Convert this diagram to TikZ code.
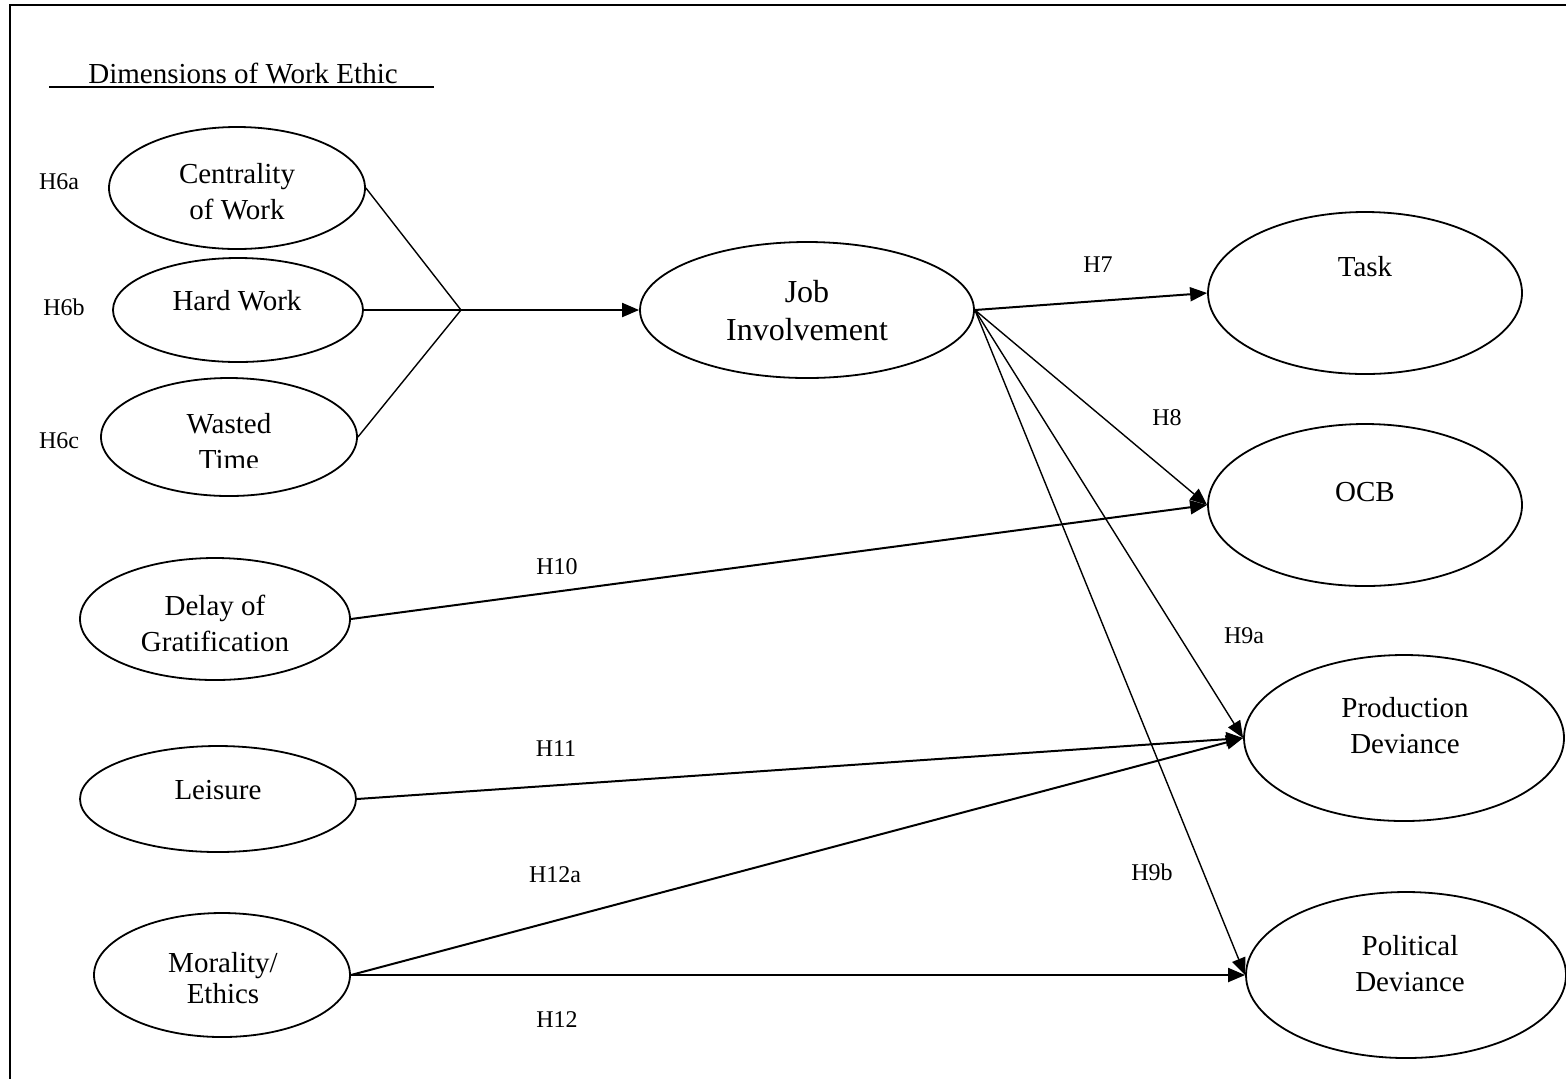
\documentclass[tikz,border=0pt]{standalone}
\usepackage{fontspec}
\setmainfont{Liberation Serif}
\usetikzlibrary{arrows.meta, shapes.geometric}
\tikzset{>={Triangle[length=8.5pt, width=7pt]},
  construct/.style={draw, ellipse, line width=0.9pt, inner sep=0pt},
  ctext/.style={align=center, font=\fontsize{14.5}{18}\selectfont},
  hyp/.style={font=\fontsize{12}{14}\selectfont},
  link/.style={line width=1pt},
  thinlink/.style={line width=0.7pt}}

\begin{document}
\begin{tikzpicture}[x=0.5pt, y=-0.5pt]
	\useasboundingbox (0,0) rectangle (1566,1078);
	\draw [line width=1pt] (1570,5) -- (10,5) -- (10,1082);
	\node [ctext] (title) at (243,73) {Dimensions of Work Ethic};
	\draw [line width=0.9pt] (49,87) -- (434,87);
	\foreach \n/\x/\y/\w/\h in {cent/237/188/128/61, hard/238/310/125/52, waste/229/437/128/59,
		delay/215/619/135/61, leis/218/799/138/53, moral/222/975/128/62, job/807/310/167/68,
		task/1365/293/157/81, ocb/1365/505/157/81, prod/1404/738/160/83, pol/1406/975/160/83}
	\node [construct, minimum width=\w pt, minimum height=\h pt] (\n) at (\x,\y) {};
	\node [ctext] at (237,192) {Centrality\\of Work};
	\node [ctext] at (237,301) {Hard Work};
	\begin{scope}
		\clip (60,380) rectangle (400,467);
		\node [ctext] at (229,442) {Wasted\\Time};
	\end{scope}
	\node [ctext] at (215,623) {Delay of\\Gratification};
	\node [ctext] at (218,790) {Leisure};
	\node [ctext, font=\fontsize{14.5}{15.5}\selectfont] at (223,978) {Morality/\\Ethics};
	\node [ctext, font=\fontsize{16}{19}\selectfont] at (807,311) {Job\\Involvement};
	\node [ctext] at (1365,267) {Task};
	\node [ctext] at (1365,492) {OCB};
	\node [ctext] at (1405,726) {Production\\Deviance};
	\node [ctext] at (1410,964) {Political\\Deviance};
	\foreach \t/\x/\y in {H6a/59/182, H6b/64/307, H6c/59/441, H7/1098/265, H8/1167/418,
		H9a/1244/636, H9b/1152/872, H10/557/567, H11/556/749, H12a/555/875, H12/557/1020}
	\node [hyp] at (\x,\y) {\t};
	\coordinate (fan) at (461,310);
	\foreach \n in {cent, hard, waste}
	\draw [thinlink] (\n.east) -- (fan);
	\draw [link, ->] (fan) -- (job.west);
	\draw [link, ->] (job.east) -- (task.west);
	\foreach \n in {ocb, prod, pol}
	\draw [thinlink, ->] (job.east) -- (\n.west);
	\draw [link, ->] (delay.east) -- (ocb.west);
	\draw [link, ->] (leis.east) -- (prod.west);
	\draw [link, ->] (moral.east) -- (prod.west);
	\draw [link, ->] (moral.east) -- (pol.west);
\end{tikzpicture}
\end{document}
